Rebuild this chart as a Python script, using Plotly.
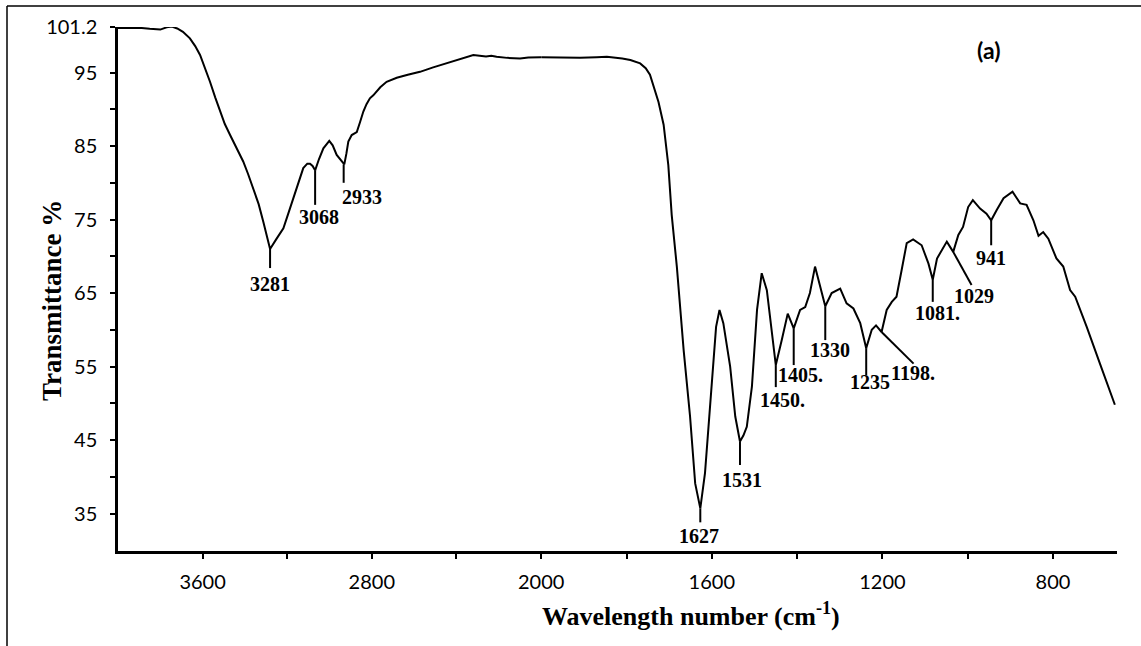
import plotly.graph_objects as go

# ---------------- data ----------------
# high-wavenumber segment (4000 -> 2000 cm-1)
wn_high = [4000, 3950, 3900, 3850, 3800, 3770, 3745, 3720, 3693, 3660, 3635, 3612, 3590,
           3565, 3540, 3518, 3495, 3470, 3440, 3408, 3385, 3360, 3335, 3313, 3295, 3281,
           3250, 3218, 3195, 3171, 3147, 3124, 3105, 3092, 3080, 3068, 3050, 3029, 3001,
           2985, 2966, 2945, 2930, 2920, 2911, 2895, 2880, 2871, 2855, 2840, 2825, 2809,
           2793, 2760, 2730, 2700, 2682, 2630, 2572, 2510, 2446, 2380, 2320, 2290, 2260,
           2235, 2210, 2160, 2099, 2060, 2020, 2000]
t_high = [101.05, 101.05, 101.1, 100.95, 100.85, 101.15, 101.25, 101.0, 100.55, 99.65, 98.6, 97.4, 95.8,
          93.75, 91.6, 89.7, 88.0, 86.5, 84.8, 82.9, 81.2, 79.2, 77.1, 74.7, 72.6, 71.0,
          72.4, 73.8, 75.8, 77.9, 80.0, 82.0, 82.6, 82.6, 82.3, 81.7, 83.2, 84.7, 85.7,
          85.1, 83.8, 83.0, 82.5, 84.0, 85.6, 86.5, 86.8, 86.9, 88.3, 89.7, 90.7, 91.5,
          91.9, 93.0, 93.75, 94.1, 94.3, 94.7, 95.1, 95.7, 96.25, 96.9, 97.4, 97.3, 97.2,
          97.3, 97.15, 97.0, 96.9, 97.05, 97.15, 97.1]

# low-wavenumber segment (2000 -> 650 cm-1)
wn_low = [2000, 1950, 1909, 1870, 1846, 1810, 1791, 1768, 1755, 1745, 1735, 1725, 1713,
          1702, 1694, 1682, 1666, 1651, 1639, 1627, 1616, 1600, 1590, 1582, 1573, 1557,
          1545, 1534, 1526, 1518, 1506, 1494, 1483, 1471, 1459, 1450, 1436, 1422, 1408,
          1393, 1381, 1370, 1358, 1346, 1334, 1319, 1299, 1284, 1268, 1252, 1238, 1225,
          1215, 1202, 1190, 1178, 1167, 1155, 1143, 1128, 1108, 1092, 1082, 1072, 1049,
          1034, 1022, 1011, 999, 988, 971, 956, 945, 932, 916, 895, 877, 862, 846, 834,
          823, 811, 792, 776, 760, 748, 721, 690, 655]
t_low = [97.1, 97.05, 97.0, 97.1, 97.15, 96.9, 96.7, 96.25, 95.6, 94.7, 93.0, 91.0, 87.9,
         82.4, 75.6, 68.6, 57.2, 48.2, 39.1, 35.7, 40.5, 52.7, 60.4, 62.7, 60.9, 55.0,
         48.2, 44.8, 45.6, 46.8, 52.25, 62.7, 67.7, 65.4, 59.5, 55.2, 58.6, 62.2, 60.2,
         62.7, 63.1, 65.0, 68.6, 65.9, 63.2, 65.0, 65.6, 63.6, 62.9, 60.9, 57.5, 60.0,
         60.6, 59.7, 62.7, 63.8, 64.5, 68.1, 71.8, 72.3, 71.5, 69.0, 66.8, 69.7, 72.0,
         70.6, 72.9, 74.0, 76.7, 77.65, 76.5, 75.8, 74.9, 76.3, 77.9, 78.8, 77.2, 77.0, 74.9, 72.8,
         73.3, 72.4, 69.7, 68.6, 65.4, 64.5, 60.4, 55.4, 49.8]

# peak annotations: label, dip point, end of leader line, label centre
peak_labels = ["3281", "3068", "2933", "1627", "1531", "1450.", "1405.", "1330", "1235",
               "1198.", "1081.", "1029", "941"]
peak_wn = [3281, 3068, 2933, 1627, 1534, 1450, 1408, 1334, 1238, 1202, 1082, 1034, 945]
peak_t = [71.0, 81.7, 82.5, 35.7, 44.8, 55.2, 60.2, 63.2, 57.5, 59.7, 66.8, 70.6, 74.9]
line_end_wn = [3281, 3068, 2933, 1627, 1534, 1450, 1408, 1334, 1238, 1127, 1082, 991, 945]
line_end_t = [68.4, 77.0, 80.0, 33.8, 41.6, 52.2, 55.2, 58.6, 53.8, 55.4, 63.8, 66.1, 71.5]
label_wn = [3281, 3052, 2846, 1631, 1529, 1435, 1391, 1323, 1229, 1128, 1072, 985, 945]
label_t = [66.2, 75.4, 78.1, 31.9, 39.6, 50.4, 53.8, 57.2, 52.9, 54.1, 62.3, 64.6, 69.8]

y_tick_vals = [35, 45, 55, 65, 75, 85, 95, 101.2]
y_tick_text = ["35", "45", "55", "65", "75", "85", "95", "101.2"]
y_minor_vals = [40, 50, 60, 70, 80, 90]
x_hi_ticks = [3600, 2800]
x_hi_text = ["3600", "2800"]
x_hi_minor = [3200, 2400]
x_lo_ticks = [2000, 1600, 1200, 800]
x_lo_text = ["2000", "1600", "1200", "800"]
x_lo_minor = [1800, 1400, 1000]

# ---------------- figure ----------------
W, H = 1141, 646
ML, MR, MT, MB = 118, 24, 27, 95
PW = W - ML - MR
PH = H - MT - MB
split = 423 / PW

SERIF = "Liberation Serif"
TICKFONT = dict(family="Lato", size=20, color="black")

fig = go.Figure()
fig.add_trace(go.Scatter(x=wn_high, y=t_high, mode="lines", xaxis="x", yaxis="y",
                         line=dict(color="black", width=2), showlegend=False, hoverinfo="skip"))
fig.add_trace(go.Scatter(x=wn_low, y=t_low, mode="lines", xaxis="x2", yaxis="y",
                         line=dict(color="black", width=2), showlegend=False, hoverinfo="skip"))

shapes = []
annotations = []
for lab, pw, pt, ew, et, lw, lt in zip(peak_labels, peak_wn, peak_t, line_end_wn, line_end_t,
                                       label_wn, label_t):
    xr = "x" if pw > 2000 else "x2"
    shapes.append(dict(type="line", xref=xr, yref="y", x0=pw, y0=pt, x1=ew, y1=et,
                       line=dict(color="black", width=2)))
    annotations.append(dict(xref=xr, yref="y", x=lw, y=lt, text=lab, showarrow=False,
                            xanchor="center", yanchor="middle",
                            font=dict(family=SERIF, size=20, color="black", weight="bold")))

# outer frame (top and left edges visible)
fx = (7 - ML) / PW
fy = 1 + (MT - 6) / PH
shapes.append(dict(type="line", xref="paper", yref="paper", x0=fx, y0=fy, x1=1.2, y1=fy,
                   line=dict(color="black", width=1.5)))
shapes.append(dict(type="line", xref="paper", yref="paper", x0=fx, y0=fy, x1=fx, y1=-0.3,
                   line=dict(color="black", width=1.5)))

# axis titles and panel label
annotations.append(dict(xref="paper", yref="paper", x=(691 - ML) / PW, y=-(614 - MT - PH) / PH,
                        text="Wavelength number (cm<sup>-1</sup>)", showarrow=False,
                        xanchor="center", yanchor="middle",
                        font=dict(family=SERIF, size=26, color="black", weight="bold")))
annotations.append(dict(xref="paper", yref="paper", x=(52 - ML) / PW, y=(MT + PH - 301) / PH,
                        text="Transmittance %", showarrow=False, textangle=-90,
                        xanchor="center", yanchor="middle",
                        font=dict(family=SERIF, size=27, color="black", weight="bold")))
annotations.append(dict(xref="paper", yref="paper", x=(988 - ML) / PW, y=(MT + PH - 50) / PH,
                        text="(a)", showarrow=False, xanchor="center", yanchor="middle",
                        font=dict(family="Lato", size=23, color="black", weight="bold")))

minor_common = dict(ticks="outside", ticklen=5, tickwidth=2, tickcolor="black", showgrid=False)
axis_common = dict(showline=True, linecolor="black", linewidth=2.5, ticks="outside",
                   ticklen=5, tickwidth=2, tickcolor="black", showgrid=False, zeroline=False,
                   tickfont=TICKFONT, tickmode="array")

fig.update_layout(
    width=W, height=H,
    margin=dict(l=ML, r=MR, t=MT, b=MB),
    paper_bgcolor="white", plot_bgcolor="white",
    showlegend=False,
    xaxis=dict(domain=[0, split], range=[4000, 2000], anchor="y",
               tickvals=x_hi_ticks, ticktext=x_hi_text, ticklabelstandoff=6,
               minor=dict(tickvals=x_hi_minor, **minor_common), **axis_common),
    xaxis2=dict(domain=[split, 1], range=[2000.5, 650], anchor="y",
                tickvals=x_lo_ticks, ticktext=x_lo_text, ticklabelstandoff=6,
                minor=dict(tickvals=x_lo_minor, **minor_common), **axis_common),
    yaxis=dict(range=[29.9, 101.2], anchor="x", tickvals=y_tick_vals, ticktext=y_tick_text,
               ticklabelstandoff=9, minor=dict(tickvals=y_minor_vals, **minor_common),
               **axis_common),
    shapes=shapes,
    annotations=annotations,
)

fig.write_html("out.html")
